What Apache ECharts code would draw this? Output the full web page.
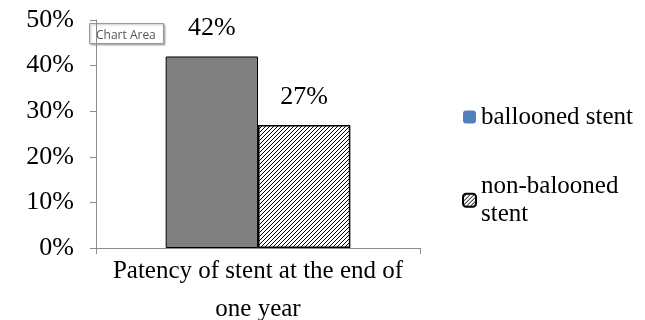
<html>
<head>
    <script src="https://cdnjs.cloudflare.com/ajax/libs/echarts/6.0.0/echarts.min.js"></script>
    <style>
        body { margin: 0; background: #fff; }
        #graph { width: 645px; height: 320px; }
    </style>
</head>
<body>
    <div id="graph"></div>
    <script>
        var categories = ['Patency of stent at the end of\none year'];
        var seriesNames = ['ballooned stent', 'non-balooned stent'];
        var ballooned = [0.42];
        var nonBallooned = [0.27];
        var yTicks = [0, 0.1, 0.2, 0.3, 0.4, 0.5];

        // diagonal hatch
        var hatch = document.createElement('canvas');
        hatch.width = 4;
        hatch.height = 4;
        var ctx = hatch.getContext('2d');
        ctx.fillStyle = '#fff';
        ctx.fillRect(0, 0, 4, 4);
        ctx.strokeStyle = '#000';
        ctx.lineWidth = 1;
        ctx.beginPath();
        ctx.moveTo(0, 4); ctx.lineTo(4, 0);
        ctx.moveTo(-1, 1); ctx.lineTo(1, -1);
        ctx.moveTo(3, 5); ctx.lineTo(5, 3);
        ctx.stroke();

        var font = 'Liberation Serif';
        var pct = function (v) { return Math.round(v * 100) + '%'; };

        var myChart = echarts.init(document.getElementById('graph'));
        var option = {
            animation: false,
            textStyle: { fontFamily: font },
            grid: { left: 96, right: 225, top: 20, bottom: 72, containLabel: false, outerBoundsMode: 'none' },
            legend: {
                orient: 'vertical',
                left: 457,
                top: 93,
                itemWidth: 13,
                itemHeight: 13,
                itemGap: 22,
                textStyle: { fontFamily: font, fontSize: 25, color: '#000', lineHeight: 28 },
                data: [
                    { name: seriesNames[0], itemStyle: { color: '#4F81BD', borderWidth: 0 } },
                    { name: seriesNames[1], textStyle: { fontFamily: font, fontSize: 25, color: '#000', lineHeight: 28, padding: [28, 0, 0, 0] } }
                ],
                formatter: function (name) {
                    return name === seriesNames[1] ? 'non-balooned\nstent' : name;
                }
            },
            xAxis: {
                type: 'category',
                data: categories,
                axisLine: { lineStyle: { color: '#8c8c8c' } },
                axisTick: { show: true, length: 6, lineStyle: { color: '#8c8c8c' } },
                axisLabel: { fontFamily: font, fontSize: 25, color: '#000', margin: 4 }
            },
            yAxis: {
                type: 'value',
                min: 0,
                max: 0.5,
                interval: 0.1,
                splitLine: { show: false },
                axisLine: { show: true, lineStyle: { color: '#8c8c8c' } },
                axisTick: { show: true, length: 6, lineStyle: { color: '#8c8c8c' } },
                axisLabel: {
                    fontFamily: font, fontSize: 26, color: '#000', margin: 22,
                    formatter: function (v) { return yTicks.indexOf(Math.round(v * 10) / 10) >= 0 ? pct(v) : ''; }
                }
            },
            series: [
                {
                    name: seriesNames[0],
                    type: 'bar',
                    data: ballooned,
                    barGap: 0,
                    barCategoryGap: '43%',
                    itemStyle: { color: '#808080', borderColor: '#000', borderWidth: 1 },
                    label: {
                        show: true, position: 'top', distance: 8,
                        fontFamily: font, fontSize: 26, color: '#000',
                        formatter: function (p) { return pct(p.value); }
                    }
                },
                {
                    name: seriesNames[1],
                    type: 'bar',
                    data: nonBallooned,
                    itemStyle: { color: { image: hatch, repeat: 'repeat' }, borderColor: '#000', borderWidth: 1.5 },
                    label: {
                        show: true, position: 'top', distance: 8,
                        fontFamily: font, fontSize: 26, color: '#000',
                        formatter: function (p) { return pct(p.value); }
                    }
                }
            ],
            graphic: [
                {
                    type: 'rect',
                    left: 89, top: 23,
                    shape: { width: 74, height: 20 },
                    style: { fill: '#fff', stroke: '#9a9a9a', lineWidth: 1, shadowBlur: 2, shadowOffsetX: 1, shadowOffsetY: 1, shadowColor: 'rgba(0,0,0,0.3)' }
                },
                {
                    type: 'text',
                    left: 96, top: 26,
                    style: { text: 'Chart Area', fontFamily: 'Open Sans', fontSize: 12, fill: '#555' }
                }
            ]
        };
        option && myChart.setOption(option);
    </script>
</body>
</html>
